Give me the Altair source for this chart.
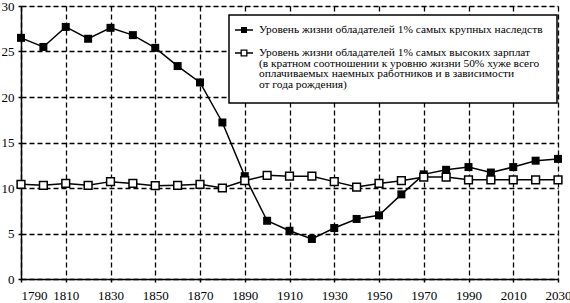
import altair as alt
import pandas as pd

years = list(range(1790, 2031, 10))
inherit = [26.5, 25.5, 27.7, 26.4, 27.6, 26.8, 25.4, 23.4, 21.6, 17.2, 11.3, 6.4, 5.3,
           4.4, 5.6, 6.6, 7.0, 9.3, 11.5, 12.0, 12.3, 11.7, 12.3, 13.0, 13.2]
wages = [10.4, 10.3, 10.5, 10.3, 10.7, 10.5, 10.25, 10.3, 10.4, 10.0, 10.8, 11.4, 11.3,
         11.3, 10.7, 10.1, 10.5, 10.8, 11.2, 11.2, 10.9, 10.9, 10.9, 10.9, 10.9]
x_ticks = list(range(1790, 2031, 20))
y_ticks = [0, 5, 10, 15, 20, 25, 30]
legend1 = ["Уровень жизни обладателей 1% самых крупных наследств"]
legend2 = ["Уровень жизни обладателей 1% самых высоких зарплат",
           "(в кратном соотношении к уровню жизни 50% хуже всего",
           "оплачиваемых наемных работников и в зависимости",
           "от года рождения)"]

FONT = "Liberation Sans Narrow"

df = pd.DataFrame({"year": years, "inherit": inherit, "wages": wages})

xenc = alt.X("year:Q", scale=alt.Scale(domain=[1790, 2030], nice=False, zero=False),
             axis=alt.Axis(values=x_ticks, format="d", title=None, grid=True,
                           gridDash=[5, 3], gridColor="black", gridWidth=1.3, gridOpacity=1,
                           domainColor="black", domainWidth=1.5, tickColor="black",
                           tickSize=3, tickWidth=1.5, labelFont=FONT, labelFontSize=13,
                           labelColor="black", labelPadding=7, labelFlush=False,
                           labelAlign={"condition": {"test": "datum.value == 1790", "value": "left"},
                                       "value": "center"}))
yaxis = alt.Axis(values=y_ticks, title=None, grid=True, gridDash=[5, 3], gridColor="black",
                 gridWidth=1.3, gridOpacity=1, domainColor="black", domainWidth=1.5,
                 tickColor="black", tickSize=3, tickWidth=1.5, labelFont=FONT,
                 labelFontSize=13, labelColor="black", labelPadding=4)
yscale = alt.Scale(domain=[0, 30], nice=False)

base = alt.Chart(df)
l1 = base.mark_line(color="black", strokeWidth=1.5).encode(
    x=xenc, y=alt.Y("inherit:Q", scale=yscale, axis=yaxis))
p1 = base.mark_square(size=64, color="black", opacity=1).encode(
    x="year:Q", y="inherit:Q")
l2 = base.mark_line(color="black", strokeWidth=1.5).encode(x="year:Q", y="wages:Q")
p2 = base.mark_square(size=60, fill="white", stroke="black", strokeWidth=1.5, opacity=1).encode(
    x="year:Q", y="wages:Q")

one = pd.DataFrame({"a": [0]})
box = alt.Chart(one).mark_rect(fill="white", stroke="black", strokeWidth=1.5).encode(
    x=alt.value(208), x2=alt.value(536), y=alt.value(9), y2=alt.value(97))

layers = [l1, l2, p1, p2, box]
sym_y = [24, 47]
for sy, filled in zip(sym_y, [True, False]):
    layers.append(alt.Chart(one).mark_rule(color="black", strokeWidth=1.5).encode(
        x=alt.value(214), x2=alt.value(232), y=alt.value(sy)))
    if filled:
        layers.append(alt.Chart(one).mark_square(size=36, color="black", opacity=1).encode(
            x=alt.value(223), y=alt.value(sy)))
    else:
        layers.append(alt.Chart(one).mark_square(size=32, fill="white", stroke="black",
                                                 strokeWidth=1.3, opacity=1).encode(
            x=alt.value(223), y=alt.value(sy)))

text_y = [24, 47, 57.7, 68.4, 79.1]
for t, ty in zip(legend1 + legend2, text_y):
    layers.append(alt.Chart(pd.DataFrame({"t": [t]})).mark_text(
        font=FONT, fontSize=11.4, align="left", baseline="middle", color="black").encode(
        x=alt.value(238), y=alt.value(ty), text="t:N"))

chart = alt.layer(*layers).properties(
    width=537, height=273, autosize="none",
    padding={"left": 21, "top": 6, "right": 12, "bottom": 24},
).configure_view(stroke="black", strokeWidth=1.5).configure(background="white")

chart.save("out.html", embed_options={"renderer": "svg", "actions": False})
